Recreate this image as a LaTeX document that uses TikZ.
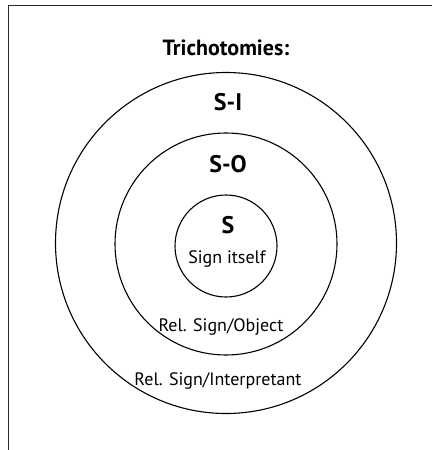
\documentclass[tikz,border=0pt]{standalone}
\usepackage{fontspec}
\setmainfont{PT Sans}
\begin{document}
\begin{tikzpicture}[x=1pt,y=-1pt,
  ring/.style={draw=black,line width=1.1pt,circle,inner sep=0pt},
  lbl/.style={anchor=base,inner sep=0pt,font=\fontsize{18}{20}\selectfont},
  big/.style={anchor=base,inner sep=0pt,font=\bfseries\fontsize{24}{28}\selectfont},
  ttl/.style={anchor=base,inner sep=0pt,font=\bfseries\fontsize{22}{26}\selectfont}]
\useasboundingbox (0,0) rectangle (432,450);
\coordinate (tl) at (8,5);
\coordinate (tr) at (432,5);
\coordinate (bl) at (8,450);
\draw[line width=1pt,black!85] (tr) -- (tl) -- (bl);
\node[ring,minimum size=341pt] (outer) at (226,243) {};
\node[ring,minimum size=222pt] (middle) at (226,244) {};
\node[ring,minimum size=102pt] (inner) at (226,246) {};
\node[ttl] (title) at (226,55) {Trichotomies:};
\node[big] (si) at (228,110) {S-I};
\node[big] (so) at (228,172) {S-O};
\node[big] (s) at (228,233) {S};
\node[lbl] (sit) at (227,263) {Sign itself};
\node[lbl] (rso) at (221,331) {Rel. Sign/Object};
\node[lbl] (rsi) at (218,385) {Rel. Sign/Interpretant};
\end{tikzpicture}
\end{document}
